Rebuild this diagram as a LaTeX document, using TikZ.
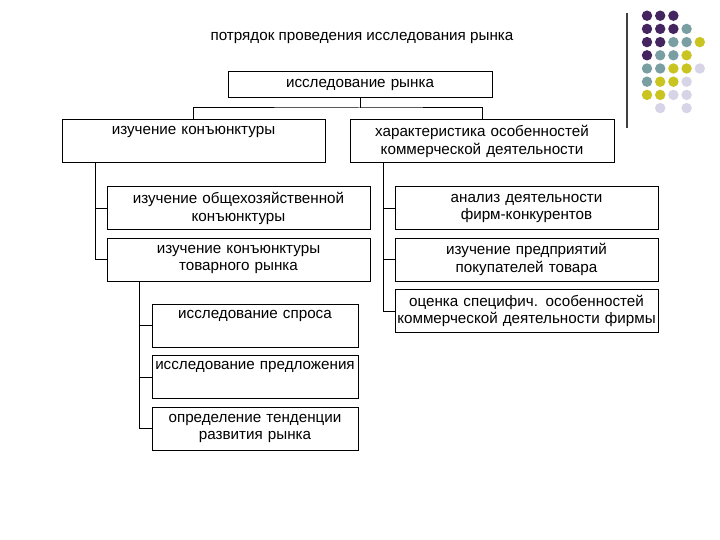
\documentclass[tikz,border=0pt]{standalone}
\usepackage{fontspec}
\setmainfont{Liberation Sans}
\definecolor{dotPurple}{HTML}{45255F}
\definecolor{dotTeal}{HTML}{7A9FA3}
\definecolor{dotOlive}{HTML}{C9C41F}
\definecolor{dotLilac}{HTML}{D6D4E6}
\newcommand{\mrLine}{\\\strut}

\begin{document}
\begin{tikzpicture}[x=1pt,y=-1pt,
  mrBox/.style={draw, line width=1pt, inner sep=0pt, align=center,
    minimum width=263pt, minimum height=43pt, text width=260pt,
    font=\fontsize{15.2}{17.5}\selectfont},
  mrSub/.style={mrBox, minimum width=206pt, text width=205pt},
  mrLink/.style={line width=1pt}]
\fill[white] (0,0) rectangle (720,540);
\useasboundingbox (0,0) rectangle (720,540);
% decoration in the corner
\draw[line width=1.2pt, black!75] (627,13) -- (627,128);
\foreach \c/\r/\k in {0/0/dotPurple,1/0/dotPurple,2/0/dotPurple,
  0/1/dotPurple,1/1/dotPurple,2/1/dotPurple,3/1/dotTeal,
  0/2/dotPurple,1/2/dotPurple,2/2/dotTeal,3/2/dotTeal,4/2/dotOlive,
  0/3/dotPurple,1/3/dotTeal,2/3/dotTeal,3/3/dotOlive,
  0/4/dotTeal,1/4/dotTeal,2/4/dotOlive,3/4/dotOlive,4/4/dotLilac,
  0/5/dotTeal,1/5/dotOlive,2/5/dotOlive,3/5/dotLilac,
  0/6/dotOlive,1/6/dotOlive,2/6/dotLilac,3/6/dotLilac,
  1/7/dotLilac,3/7/dotLilac}
  \fill[\k] (647+13.2*\c,15.7+13.2*\r) circle (5.2);
% title
\node[font=\fontsize{15.2}{17.5}\selectfont] (title) at (362,38) {потрядок проведения исследования рынка};
% boxes
\node[mrBox, minimum width=264pt, minimum height=26pt] (market) at (360,85) {исследование рынка};
\node[mrBox] (conj) at (193.5,141.5) {изучение конъюнктуры\mrLine};
\node[mrBox, minimum width=264pt] (trade) at (482,141.5) {характеристика особенностей\\коммерческой деятельности};
\node[mrBox] (general) at (238.5,208.5) {изучение общехозяйственной\\конъюнктуры};
\node[mrBox] (goods) at (238.5,259.5) {изучение конъюнктуры\\товарного рынка};
\node[mrBox] (rivals) at (526.5,208.5) {анализ деятельности\\фирм-конкурентов};
\node[mrBox] (buyers) at (526.5,259.5) {изучение предприятий\\покупателей товара};
\node[mrBox] (firm) at (526.5,311) {оценка специфич. особенностей\\коммерческой деятельности фирмы};
\node[mrSub] (demand) at (255,325.5) {исследование спроса\mrLine};
\node[mrSub] (supply) at (255,377) {исследование предложения\mrLine};
\node[mrSub] (trend) at (255,428.5) {определение тенденции\\развития рынка};
% connectors
\coordinate (busTop) at (360,108);
\coordinate (busLeft) at (95,0);
\coordinate (busRight) at (383,0);
\coordinate (busSub) at (139,0);
\draw[mrLink] (market.south) -- (busTop);
\draw[mrLink] (conj.north) |- (busTop) -| (trade.north);
\draw[mrLink] (conj.south -| busLeft) |- (goods.west);
\draw[mrLink] (general.west -| busLeft) -- (general.west);
\draw[mrLink] (trade.south -| busRight) |- (firm.west);
\draw[mrLink] (rivals.west -| busRight) -- (rivals.west);
\draw[mrLink] (buyers.west -| busRight) -- (buyers.west);
\draw[mrLink] (goods.south -| busSub) |- (trend.west);
\draw[mrLink] (demand.west -| busSub) -- (demand.west);
\draw[mrLink] (supply.west -| busSub) -- (supply.west);
\end{tikzpicture}
\end{document}
